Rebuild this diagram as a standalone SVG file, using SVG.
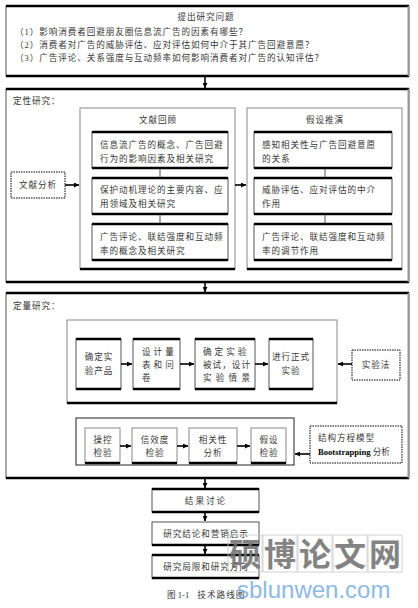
<svg xmlns="http://www.w3.org/2000/svg" width="418" height="608" viewBox="0 0 418 608">
<defs>
<style>
text{font-family:"Liberation Serif","Noto Sans CJK SC",serif;fill:#383838;font-size:8.6px;}
.t{letter-spacing:0.9px;}
.c{text-anchor:middle;}
.frame{fill:#fff;stroke:#555;stroke-width:1;}
.thin{fill:#fff;stroke:#888;stroke-width:1;}
.thick{stroke:#000;stroke-width:2.4;}
.dash{fill:#fff;stroke:#000;stroke-width:1;stroke-dasharray:1.5 1;}
.arr{stroke:#000;stroke-width:1.6;fill:none;marker-end:url(#ah);}
.plain{stroke:#555;stroke-width:1;fill:none;}
.wmt{fill:none;stroke:#ccc;stroke-width:1;}
.wmc{font-family:"Noto Sans CJK SC",sans-serif;font-size:32px;font-weight:700;fill:#6e6e6e;text-anchor:middle;}
.wml{font-family:"Liberation Sans",sans-serif;font-size:24px;fill:#7aaee0;}
</style>
<marker id="ah" viewBox="0 0 6 6" refX="6" refY="3" markerWidth="5" markerHeight="5" orient="auto" markerUnits="userSpaceOnUse"><path d="M0,0 L6,3 L0,6 z" fill="#000"/></marker>
</defs>
<rect width="418" height="608" fill="#fff"/>

<g id="questions">
<rect class="frame" x="6" y="6" width="403" height="70"/>
<line class="thick" x1="6" y1="6" x2="409" y2="6"/>
<line class="thick" x1="6" y1="76" x2="409" y2="76"/>
<line stroke="#999" stroke-width="2" x1="408.5" y1="6" x2="408.5" y2="76"/>
<text class="c t" x="206" y="20">提出研究问题</text>
<text class="t" x="15" y="35">（1）影响消费者回避朋友圈信息流广告的因素有哪些？</text>
<text class="t" x="15" y="48">（2）消费者对广告的威胁评估、应对评估如何中介于其广告回避意愿？</text>
<text class="t" x="15" y="61">（3）广告评论、关系强度与互动频率如何影响消费者对广告的认知评估？</text>
</g>

<g id="qualitative">
<rect class="frame" x="6" y="89" width="403" height="193"/>
<line class="thick" x1="6" y1="89" x2="409" y2="89"/>
<line class="thick" x1="6" y1="282" x2="409" y2="282"/>
<line stroke="#999" stroke-width="2" x1="408.5" y1="89" x2="408.5" y2="282"/>
<text class="t" x="13" y="104">定性研究：</text>
</g>

<g id="lit-analysis">
<rect class="dash" x="11" y="172" width="54" height="26"/>
<text class="c t" x="38" y="188">文献分析</text>
</g>

<g id="lit-review">
<rect class="thin" x="80" y="108" width="155" height="161"/>
<line class="thick" x1="80" y1="269" x2="235" y2="269"/>
<text class="c t" x="158" y="123">文献回顾</text>
</g>
<g id="lit-1">
<rect class="frame" x="92" y="132" width="136" height="36"/>
<line class="thick" x1="92" y1="132" x2="228" y2="132"/><line class="thick" x1="92" y1="168" x2="228" y2="168"/>
<text class="t" x="100" y="148">信息流广告的概念、广告回避</text>
<text class="t" x="100" y="162">行为的影响因素及相关研究</text>
</g>
<g id="lit-2">
<rect class="frame" x="92" y="178" width="136" height="36"/>
<line class="thick" x1="92" y1="178" x2="228" y2="178"/><line class="thick" x1="92" y1="214" x2="228" y2="214"/>
<text class="t" x="100" y="193">保护动机理论的主要内容、应</text>
<text class="t" x="100" y="207">用领域及相关研究</text>
</g>
<g id="lit-3">
<rect class="frame" x="92" y="224" width="136" height="36"/>
<line class="thick" x1="92" y1="224" x2="228" y2="224"/><line class="thick" x1="92" y1="260" x2="228" y2="260"/>
<text class="t" x="100" y="240">广告评论、联结强度和互动频</text>
<text class="t" x="100" y="254">率的概念及相关研究</text>
</g>

<g id="hypothesis">
<rect class="thin" x="247" y="108" width="155" height="161"/>
<line class="thick" x1="247" y1="269" x2="402" y2="269"/>
<text class="c t" x="325" y="123">假设推演</text>
</g>
<g id="hyp-1">
<rect class="frame" x="254" y="132" width="138" height="36"/>
<line class="thick" x1="254" y1="132" x2="392" y2="132"/><line class="thick" x1="254" y1="168" x2="392" y2="168"/>
<text class="t" x="262" y="148">感知相关性与广告回避意愿</text>
<text class="t" x="262" y="162">的关系</text>
</g>
<g id="hyp-2">
<rect class="frame" x="254" y="178" width="138" height="36"/>
<line class="thick" x1="254" y1="178" x2="392" y2="178"/><line class="thick" x1="254" y1="214" x2="392" y2="214"/>
<text class="t" x="262" y="193">威胁评估、应对评估的中介</text>
<text class="t" x="262" y="207">作用</text>
</g>
<g id="hyp-3">
<rect class="frame" x="254" y="224" width="138" height="36"/>
<line class="thick" x1="254" y1="224" x2="392" y2="224"/><line class="thick" x1="254" y1="260" x2="392" y2="260"/>
<text class="t" x="262" y="240">广告评论、联结强度和互动频</text>
<text class="t" x="262" y="254">率的调节作用</text>
</g>

<g id="quantitative">
<rect class="frame" x="6" y="293" width="403" height="185"/>
<line class="thick" x1="6" y1="293" x2="409" y2="293"/>
<line class="thick" x1="6" y1="478" x2="409" y2="478"/>
<line stroke="#999" stroke-width="2" x1="408.5" y1="293" x2="408.5" y2="478"/>
<text class="t" x="13" y="309">定量研究：</text>
</g>

<g id="experiment-flow">
<rect class="thin" x="67" y="320" width="270" height="83"/>
<line class="thick" x1="67" y1="403" x2="337" y2="403"/>
</g>
<g id="exp-1">
<rect class="frame" x="76" y="339" width="45" height="50"/>
<line class="thick" x1="76" y1="339" x2="121" y2="339"/><line class="thick" x1="76" y1="389" x2="121" y2="389"/>
<text class="c t" x="99" y="360">确定实</text>
<text class="c t" x="99" y="374">验产品</text>
</g>
<g id="exp-2">
<rect class="frame" x="133" y="339" width="47" height="50"/>
<line class="thick" x1="133" y1="339" x2="180" y2="339"/><line class="thick" x1="133" y1="389" x2="180" y2="389"/>
<text x="142" y="355" style="letter-spacing:3px">设计量</text>
<text x="142" y="368" style="letter-spacing:3px">表和问</text>
<text x="142" y="381">卷</text>
</g>
<g id="exp-3">
<rect class="frame" x="195" y="339" width="60" height="50"/>
<line class="thick" x1="195" y1="339" x2="255" y2="339"/><line class="thick" x1="195" y1="389" x2="255" y2="389"/>
<text x="203" y="355" style="letter-spacing:3px">确定实验</text>
<text x="203" y="368" textLength="47" lengthAdjust="spacing">被试，设计</text>
<text x="203" y="381" textLength="47" lengthAdjust="spacing">实验情景</text>
</g>
<g id="exp-4">
<rect class="frame" x="269" y="339" width="44" height="50"/>
<line class="thick" x1="269" y1="339" x2="313" y2="339"/><line class="thick" x1="269" y1="389" x2="313" y2="389"/>
<text class="c t" x="291" y="360">进行正式</text>
<text class="c t" x="291" y="374">实验</text>
</g>
<g id="exp-method">
<rect class="dash" x="352" y="350" width="48" height="30"/>
<text class="c t" x="376" y="368">实验法</text>
</g>

<g id="analysis-flow">
<rect fill="#fff" stroke="#222" stroke-width="1" x="76" y="418" width="218" height="47"/>
</g>
<g id="ana-1">
<rect class="thin" x="85" y="428" width="35" height="35"/>
<line class="thick" x1="85" y1="463" x2="120" y2="463"/>
<text class="c t" x="103" y="443">操控</text>
<text class="c t" x="103" y="456">检验</text>
</g>
<g id="ana-2">
<rect class="thin" x="132" y="428" width="45" height="35"/>
<line class="thick" x1="132" y1="463" x2="177" y2="463"/>
<text class="c t" x="155" y="443">信效度</text>
<text class="c t" x="155" y="456">检验</text>
</g>
<g id="ana-3">
<rect class="thin" x="189" y="428" width="48" height="35"/>
<line class="thick" x1="189" y1="463" x2="237" y2="463"/>
<text class="c t" x="213" y="443">相关性</text>
<text class="c t" x="213" y="456">分析</text>
</g>
<g id="ana-4">
<rect class="thin" x="251" y="428" width="35" height="35"/>
<line class="thick" x1="251" y1="463" x2="286" y2="463"/>
<text class="c t" x="269" y="443">假设</text>
<text class="c t" x="269" y="456">检验</text>
</g>
<g id="sem">
<rect class="dash" x="310" y="426" width="92" height="37"/>
<text class="t" x="318" y="441">结构方程模型</text>
<text x="318" y="455"><tspan font-weight="bold" fill="#000">Bootstrapping</tspan> 分析</text>
</g>

<g id="results">
<rect class="frame" x="152" y="489" width="107" height="23"/>
<line class="thick" x1="152" y1="489" x2="259" y2="489"/><line class="thick" x1="152" y1="512" x2="259" y2="512"/>
<text class="c" x="206" y="504" style="letter-spacing:2px">结果讨论</text>
</g>
<g id="conclusions">
<rect class="frame" x="152" y="522" width="107" height="23"/>
<line class="thick" x1="152" y1="545" x2="259" y2="545"/>
<text class="c t" x="206" y="537">研究结论和营销启示</text>
</g>
<g id="limitations">
<rect class="frame" x="152" y="555" width="107" height="23"/>
<line class="thick" x1="152" y1="555" x2="259" y2="555"/><line class="thick" x1="152" y1="578" x2="259" y2="578"/>
<text class="c t" x="206" y="570">研究局限和研究方向</text>
</g>

<g id="connectors">
<line class="arr" x1="205" y1="77" x2="205" y2="88"/>
<line class="arr" x1="65" y1="185" x2="79" y2="185"/>
<line class="arr" x1="235" y1="185" x2="246" y2="185"/>
<line class="plain" x1="160" y1="169" x2="160" y2="177"/>
<line class="plain" x1="160" y1="215" x2="160" y2="223"/>
<line class="plain" x1="325" y1="169" x2="325" y2="177"/>
<line class="plain" x1="325" y1="215" x2="325" y2="223"/>
<line class="arr" x1="205" y1="283" x2="205" y2="292"/>
<line class="arr" x1="121" y1="364" x2="132" y2="364"/>
<line class="arr" x1="180" y1="364" x2="194" y2="364"/>
<line class="arr" x1="255" y1="364" x2="268" y2="364"/>
<line class="arr" x1="352" y1="364" x2="338" y2="364"/>
<line class="arr" x1="120" y1="446" x2="131" y2="446"/>
<line class="arr" x1="177" y1="446" x2="188" y2="446"/>
<line class="arr" x1="237" y1="446" x2="250" y2="446"/>
<line class="arr" x1="310" y1="454" x2="295" y2="454"/>
<line class="arr" x1="205" y1="479" x2="205" y2="488"/>
<line class="arr" x1="205" y1="512" x2="205" y2="521"/>
<line class="arr" x1="205" y1="545" x2="205" y2="554"/>
</g>

<g id="caption">
<text x="167" y="598">图 1-1 <tspan dx="6" style="letter-spacing:1px">技术路线图</tspan></text>
</g>

<g id="watermark" opacity="0.85">
<rect class="wmt" x="228" y="535" width="34" height="37"/>
<rect class="wmt" x="263" y="535" width="34" height="37"/>
<rect class="wmt" x="298" y="535" width="34" height="37"/>
<rect class="wmt" x="333" y="535" width="34" height="37"/>
<rect class="wmt" x="368" y="535" width="34" height="37"/>
<text class="wmc" x="245" y="566">硕</text>
<text class="wmc" x="280" y="566">博</text>
<text class="wmc" x="315" y="566">论</text>
<text class="wmc" x="350" y="566">文</text>
<text class="wmc" x="385" y="566">网</text>
<text class="wml" x="237" y="598">sblunwen.com</text>
</g>
</svg>
